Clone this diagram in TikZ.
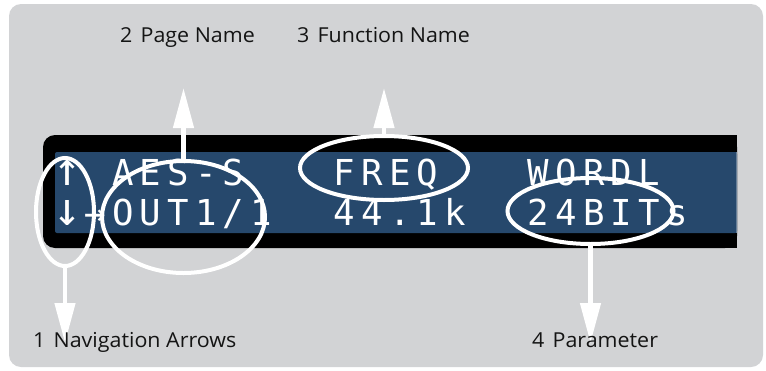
\documentclass[tikz,border=0pt]{standalone}
\usepackage{fontspec}
\setmainfont[FakeStretch=1.04]{Open Sans}
\newfontfamily\lcdfont{DejaVu Sans Mono}
\usetikzlibrary{arrows.meta,shapes.geometric}
\definecolor{panelgray}{HTML}{D2D3D5}
\definecolor{lcdblue}{HTML}{26486C}
\definecolor{labelink}{HTML}{141414}
\newcommand\lcdarrow[1]{\setbox0=\hbox{\resizebox*{!}{25pt}{#1}}\raisebox{\dp0}{\box0}}
\begin{document}
\begin{tikzpicture}[x=1pt,y=-1pt,
  ring/.style={draw=white,line width=4pt,ellipse,inner sep=0pt,outer sep=0pt},
  callout/.style={draw=white,line width=4.5pt,-{Triangle[length=40pt,width=20pt]}},
  lbl/.style={anchor=base west,inner sep=0pt,text=labelink,font=\fontsize{20.6}{23}\selectfont},
  lcd/.style={anchor=base,inner sep=0pt,text=white,font=\lcdfont\fontsize{35.7}{36}\selectfont}]
\useasboundingbox (0,0) rectangle (766,370);
% panel
\fill[panelgray,rounded corners=12pt] (9,4) rectangle (763,367);
% LCD housing
\fill[black,rounded corners=12pt] (43,135) rectangle (737,248);
\fill[black] (700,135) rectangle (737,248);
\fill[lcdblue,rounded corners=2pt] (55,152) rectangle (737,233);
\fill[lcdblue] (720,152) rectangle (737,233);
\draw[lcdblue!70!white,line width=1pt] (736.5,152) -- (736.5,233);
% LCD text, row 1
\node[lcd] (ra0) at (67.5,185) {\lcdarrow{↑}};
\foreach \c/\t in {2/A,3/E,4/S,5/-,6/S,10/F,11/R,12/E,13/Q,17/W,18/O,19/R,20/D,21/L}
  \node[lcd] (ra\c) at ({67.5+27.7*\c},185) {\t};
% LCD text, row 2
\node[lcd] (rb0) at (67.5,225) {\lcdarrow{↓}};
\foreach \c/\t in {1/→,2/O,3/U,4/T,5/1,6/{/},7/1,10/4,11/4,12/.,13/1,14/k,17/2,18/4,19/B,20/I,21/T,22/s}
  \node[lcd] (rb\c) at ({67.5+27.7*\c},225) {\t};
% rings
\node[ring,minimum width=58pt,minimum height=108pt] (nav) at (65,212) {};
\node[ring,minimum width=163pt,minimum height=112pt] (page) at (183.5,217) {};
\node[ring,minimum width=168pt,minimum height=64pt] (func) at (384,168) {};
\node[ring,minimum width=166pt,minimum height=66pt] (param) at (590.5,211) {};
% arrow tips
\coordinate (tipnav) at (65,343);
\coordinate (tippage) at (183.5,88);
\coordinate (tipfunc) at (384,88);
\coordinate (tipparam) at (590.5,343);
\draw[callout] (nav.south) -- (tipnav);
\draw[callout] (page.north) -- (tippage);
\draw[callout] (func.north) -- (tipfunc);
\draw[callout] (param.south) -- (tipparam);
% labels
\node[lbl] (lblpage) at (120,42) {2\hspace{0.4em}Page Name};
\node[lbl] (lblfunc) at (297,42) {3\hspace{0.4em}Function Name};
\node[lbl] (lblnav) at (33,347) {1\hspace{0.4em}Navigation Arrows};
\node[lbl] (lblparam) at (532,347) {4\hspace{0.4em}Parameter};
\end{tikzpicture}
\end{document}
